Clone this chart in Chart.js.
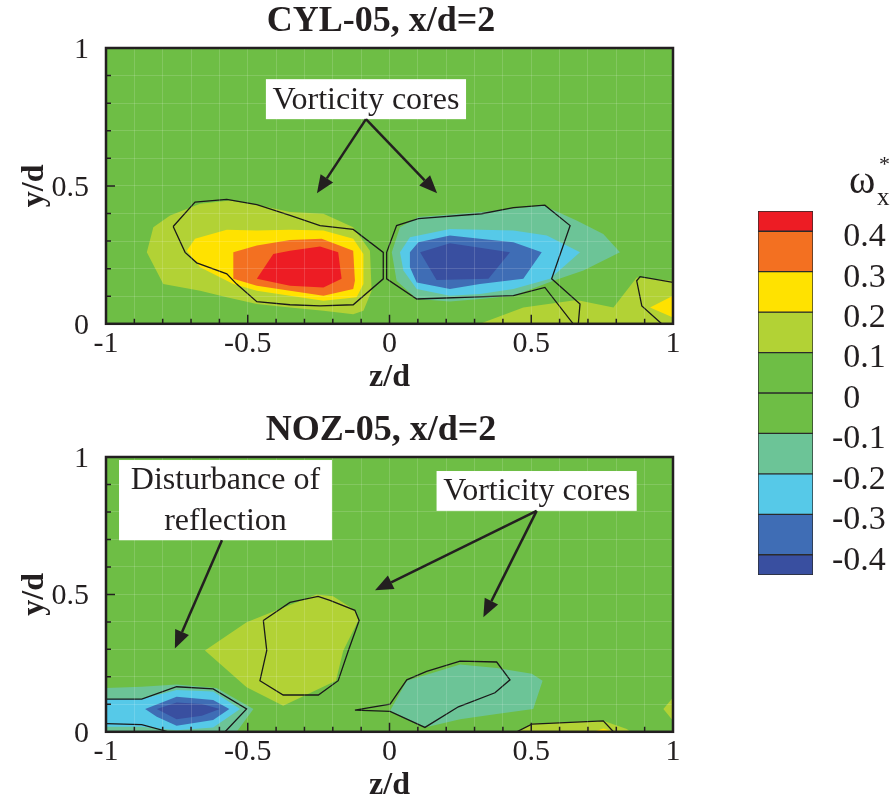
<!DOCTYPE html>
<html>
<head>
<meta charset="utf-8">
<script src="https://cdn.jsdelivr.net/npm/chart.js@4.4.1/dist/chart.umd.min.js"></script>
<style>
  html, body { margin: 0; padding: 0; background: #ffffff; width: 893px; height: 798px; overflow: hidden; }
  canvas { position: absolute; }
  #cyl { left: 0; top: 0; }
  #noz { left: 0; top: 409px; }
  #bar { left: 700px; top: 170px; }
  .sym { position: absolute; font-family: "Liberation Serif", "Times New Roman", serif; color: #231f20; line-height: 1; white-space: nowrap; }
</style>
</head>
<body>
<canvas id="cyl" width="762" height="397"></canvas>
<canvas id="noz" width="762" height="396"></canvas>
<canvas id="bar" width="193" height="440"></canvas>
<span class="sym" style="left:849px; top:160px; font-size:40px;">ω</span>
<span class="sym" style="left:877px; top:184px; font-size:25px;">x</span>
<span class="sym" style="left:879px; top:153px; font-size:22px;">*</span>

<script>
// ---- contour levels and palette ----
const bandEdges  = [0.45, 0.4, 0.3, 0.2, 0.1, 0, -0.1, -0.2, -0.3, -0.4, -0.45];
const bandColors = ['#ED1C24', '#F37021', '#FFE200', '#B2D235', '#6EBE45', '#6EBE45', '#6CC497', '#56C9E8', '#3F6DB5', '#394FA0'];
const colorTicks = [0.4, 0.3, 0.2, 0.1, 0, -0.1, -0.2, -0.3, -0.4];
const zLabelled  = [-1, -0.5, 0, 0.5, 1];
const yLabelled  = [0, 0.5, 1];

// ---- CYL-05, x/d=2 : filled contour regions [z/d, y/d] ----
const cylPos01 = [[-0.856,0.259],[-0.833,0.350],[-0.774,0.393],[-0.668,0.435],[-0.563,0.447],[-0.457,0.429],[-0.351,0.405],[-0.233,0.399],[-0.128,0.350],[-0.069,0.265],[-0.063,0.120],[-0.092,0.047],[-0.128,0.035],[-0.233,0.047],[-0.351,0.059],[-0.468,0.072],[-0.574,0.096],[-0.668,0.120],[-0.798,0.144]];
const cylPos02 = [[-0.715,0.265],[-0.686,0.308],[-0.574,0.341],[-0.468,0.338],[-0.351,0.341],[-0.233,0.338],[-0.128,0.308],[-0.092,0.253],[-0.092,0.144],[-0.116,0.096],[-0.233,0.084],[-0.351,0.102],[-0.468,0.120],[-0.551,0.144],[-0.668,0.205]];
const cylPos03 = [[-0.551,0.259],[-0.468,0.284],[-0.351,0.304],[-0.239,0.308],[-0.128,0.265],[-0.122,0.156],[-0.128,0.126],[-0.233,0.102],[-0.351,0.120],[-0.468,0.138],[-0.551,0.163]];
const cylPos04 = [[-0.468,0.163],[-0.410,0.253],[-0.351,0.265],[-0.245,0.280],[-0.181,0.259],[-0.169,0.163],[-0.233,0.132],[-0.351,0.138]];
const cylNeg01 = [[0.008,0.259],[0.037,0.350],[0.102,0.387],[0.325,0.405],[0.543,0.429],[0.660,0.375],[0.754,0.326],[0.813,0.259],[0.684,0.193],[0.578,0.156],[0.437,0.102],[0.319,0.090],[0.213,0.081],[0.096,0.090],[0.025,0.156]];
const cylNeg02 = [[0.037,0.259],[0.072,0.314],[0.213,0.344],[0.437,0.338],[0.555,0.320],[0.672,0.259],[0.566,0.163],[0.437,0.126],[0.319,0.108],[0.213,0.102],[0.096,0.126],[0.049,0.193]];
const cylNeg03 = [[0.072,0.259],[0.102,0.296],[0.213,0.320],[0.319,0.308],[0.437,0.296],[0.537,0.259],[0.472,0.163],[0.319,0.144],[0.213,0.126],[0.096,0.150],[0.072,0.205]];
const cylNeg04 = [[0.108,0.259],[0.213,0.292],[0.425,0.259],[0.349,0.163],[0.166,0.159]];
const cylWall01 = [[0.319,0],[0.472,0.059],[0.660,0.086],[0.790,0.059],[0.872,0.168],[1,0.156],[1,0]];
const cylWall02 = [[0.919,0.059],[1,0.102],[1,0.023]];
// black iso-lines
const cylLine01 = [[-0.763,0.353],[-0.686,0.441],[-0.574,0.451],[-0.468,0.432],[-0.351,0.393],[-0.245,0.356],[-0.128,0.342],[-0.022,0.259],[-0.022,0.163],[-0.128,0.069],[-0.245,0.065],[-0.351,0.069],[-0.468,0.080],[-0.539,0.144],[-0.574,0.181],[-0.680,0.221],[-0.721,0.259],[-0.763,0.353]];
const cylLine02 = [[0.666,0],[0.672,0.072],[0.572,0.163],[0.637,0.356],[0.548,0.430],[0.437,0.421],[0.325,0.399],[0.102,0.381],[0.025,0.356],[-0.010,0.259],[-0.010,0.163],[0.096,0.090],[0.437,0.102],[0.548,0.132],[0.648,0]];
const cylLine03 = [[1,0.150],[0.884,0.171],[0.872,0.156],[0.890,0.065],[0.960,0]];

// ---- NOZ-05, x/d=2 ----
const nozPos01 = [[-0.651,0.296],[-0.504,0.399],[-0.398,0.442],[-0.257,0.500],[-0.199,0.493],[-0.122,0.442],[-0.110,0.405],[-0.163,0.296],[-0.189,0.186],[-0.375,0.095],[-0.504,0.162]];
const nozNeg01 = [[-1,0.159],[-0.874,0.164],[-0.751,0.172],[-0.610,0.159],[-0.480,0.083],[-0.539,0],[-1,0]];
const nozNeg02 = [[-1,0.119],[-0.874,0.119],[-0.751,0.152],[-0.622,0.147],[-0.527,0.083],[-0.622,0.016],[-0.751,0.006],[-0.874,0.018],[-1,0.018]];
const nozNeg03 = [[-0.862,0.083],[-0.751,0.128],[-0.622,0.116],[-0.565,0.083],[-0.622,0.043],[-0.751,0.022],[-0.821,0.055]];
const nozNeg04 = [[-0.821,0.083],[-0.751,0.107],[-0.662,0.101],[-0.598,0.083],[-0.662,0.058],[-0.751,0.046]];
const nozNeg05 = [[0.002,0.077],[0.061,0.186],[0.249,0.245],[0.378,0.232],[0.502,0.211],[0.540,0.186],[0.507,0.083],[0.378,0.065],[0.249,0.046],[0.125,0.016]];
const nozWall01 = [[0.449,0],[0.502,0.030],[0.754,0.040],[0.837,0.010],[0.850,0]];
const nozWall02 = [[0.720,0],[0.755,0.012],[0.790,0]];
const nozWall03 = [[0.966,0.083],[1,0.125],[1,0.040]];
const nozLine01 = [[-0.445,0.405],[-0.433,0.296],[-0.457,0.186],[-0.375,0.134],[-0.251,0.134],[-0.181,0.186],[-0.145,0.296],[-0.107,0.405],[-0.122,0.442],[-0.210,0.478],[-0.252,0.493],[-0.351,0.471],[-0.445,0.405]];
const nozLine02 = [[-1,0.119],[-0.874,0.119],[-0.751,0.164],[-0.622,0.156],[-0.504,0.083],[-0.580,0]];
const nozLine03 = [[-1,0.030],[-0.874,0.026],[-0.780,0]];
const nozLine04 = [[-0.122,0.079],[0.002,0.101],[0.061,0.189],[0.131,0.220],[0.249,0.257],[0.378,0.254],[0.425,0.189],[0.372,0.142],[0.243,0.091],[0.125,0.016],[0.002,0.074],[-0.122,0.079]];
const nozLine05 = [[0.449,0],[0.502,0.028],[0.754,0.040],[0.790,0]];

// ---- annotations (data units) ----
const cylNotes = [{ box: [-0.436, 0.887, 0.270, 0.742], lines: ['Vorticity cores'], from: [-0.083, 0.742], tips: [[-0.256, 0.473], [0.168, 0.473]] }];
const nozNotes = [
  { box: [0.166, 0.949, 0.872, 0.804], lines: ['Vorticity cores'], from: [0.519, 0.804], tips: [[-0.051, 0.515], [0.331, 0.417]] },
  { box: [-0.954, 0.989, -0.203, 0.697], lines: ['Disturbance of', 'reflection'], from: [-0.591, 0.697], tips: [[-0.757, 0.303]] }
];

const SERIF = "'Liberation Serif', 'Times New Roman', serif";
const INK = '#231f20';

function area(points, color, order) {
  const pts = points.map(([x, y]) => ({ x, y }));
  pts.push({ x: points[0][0], y: points[0][1] });
  return { data: pts, showLine: true, fill: 'shape', backgroundColor: color, borderColor: 'rgba(0,0,0,0)', borderWidth: 0.5, pointRadius: 0, tension: 0, order };
}
function isoLine(points) {
  return { data: points.map(([x, y]) => ({ x, y })), showLine: true, fill: false, borderColor: '#1a1a1a', borderWidth: 1.3, pointRadius: 0, tension: 0, order: 0 };
}
const near = (list, v) => list.some(l => Math.abs(l - v) < 1e-6);
const fmt = v => String(Math.round(v * 10) / 10);

// plot background, frame, inward ticks and callouts
const panelDecor = {
  id: 'panelDecor',
  beforeDraw(chart) {
    const { ctx, chartArea: a } = chart;
    ctx.save();
    ctx.fillStyle = bandColors[4];
    ctx.fillRect(a.left, a.top, a.width, a.height);
    ctx.restore();
  },
  afterDraw(chart, args, opts) {
    const { ctx, chartArea: a, scales: { x, y } } = chart;
    ctx.save();
    // callouts
    (opts.notes || []).forEach(n => {
      const x1 = x.getPixelForValue(n.box[0]), y1 = y.getPixelForValue(n.box[1]);
      const x2 = x.getPixelForValue(n.box[2]), y2 = y.getPixelForValue(n.box[3]);
      ctx.fillStyle = '#ffffff';
      ctx.fillRect(x1, y1, x2 - x1, y2 - y1);
      ctx.fillStyle = INK;
      ctx.font = '32px ' + SERIF;
      ctx.textAlign = 'center';
      ctx.textBaseline = 'middle';
      const lh = (y2 - y1) / n.lines.length;
      n.lines.forEach((t, i) => ctx.fillText(t, (x1 + x2) / 2, y1 + lh * (i + 0.5) + 1));
      const fx = x.getPixelForValue(n.from[0]), fy = y.getPixelForValue(n.from[1]);
      n.tips.forEach(([tz, ty]) => {
        const tx = x.getPixelForValue(tz), tyy = y.getPixelForValue(ty);
        const ang = Math.atan2(tyy - fy, tx - fx);
        const hl = 18, hw = 7.5;
        const bx = tx - hl * Math.cos(ang), by = tyy - hl * Math.sin(ang);
        ctx.strokeStyle = INK; ctx.lineWidth = 2.5;
        ctx.beginPath(); ctx.moveTo(fx, fy); ctx.lineTo(bx, by); ctx.stroke();
        ctx.beginPath();
        ctx.moveTo(tx, tyy);
        ctx.lineTo(bx + hw * Math.sin(ang), by - hw * Math.cos(ang));
        ctx.lineTo(bx - hw * Math.sin(ang), by + hw * Math.cos(ang));
        ctx.closePath(); ctx.fill();
      });
    });
    // inward ticks
    ctx.strokeStyle = INK; ctx.lineWidth = 1.5;
    ctx.beginPath();
    x.ticks.forEach(t => {
      const px = x.getPixelForValue(t.value);
      const len = near(zLabelled, t.value) ? 9 : 5;
      ctx.moveTo(px, a.bottom); ctx.lineTo(px, a.bottom - len);
    });
    y.ticks.forEach(t => {
      const py = y.getPixelForValue(t.value);
      const len = near(yLabelled, t.value) ? 9 : 5;
      ctx.moveTo(a.left, py); ctx.lineTo(a.left + len, py);
    });
    ctx.stroke();
    // frame
    ctx.lineWidth = 2.5;
    ctx.strokeRect(a.left, a.top, a.width, a.height);
    ctx.restore();
  }
};

function panel(id, title, areas, lines, notes) {
  const datasets = [...areas, ...lines.map(isoLine)];
  return new Chart(document.getElementById(id), {
    type: 'scatter',
    data: { datasets },
    options: {
      responsive: false, animation: false, events: [],
      layout: { padding: 0 },
      plugins: {
        legend: { display: false }, tooltip: { enabled: false },
        title: { display: true, text: title, color: INK, font: { family: SERIF, size: 36, weight: 'bold', lineHeight: 1.2 }, padding: { top: 0, bottom: 4.8 } },
        panelDecor: { notes }
      },
      scales: {
        x: {
          type: 'linear', min: -1, max: 1,
          afterFit: s => { s.height = 73.2; },
          border: { display: false },
          grid: { color: 'rgba(255,255,255,0.15)', lineWidth: 1, drawTicks: false, z: 1 },
          ticks: { stepSize: 0.1, autoSkip: false, maxRotation: 0, color: INK, padding: 2, font: { family: SERIF, size: 30 },
                   callback: v => near(zLabelled, v) ? fmt(v) : '' },
          title: { display: true, text: 'z/d', color: INK, font: { family: SERIF, size: 32, weight: 'bold', lineHeight: 1.2 }, padding: { top: 0, bottom: 0 } }
        },
        y: {
          type: 'linear', min: 0, max: 1,
          afterFit: s => { s.width = 106; },
          border: { display: false },
          grid: { color: 'rgba(255,255,255,0.15)', lineWidth: 1, drawTicks: false, z: 1 },
          ticks: { stepSize: 0.1, autoSkip: false, color: INK, padding: 17, labelOffset: 2, font: { family: SERIF, size: 30 },
                   callback: v => near(yLabelled, v) ? fmt(v) : '' },
          title: { display: true, text: 'y/d', color: INK, font: { family: SERIF, size: 32, weight: 'bold', lineHeight: 1.2 }, padding: { top: 16, bottom: 0 } }
        },
        // empty right-hand axis that only reserves the margin beside the plot
        yMargin: {
          type: 'linear', position: 'right', min: 0, max: 1,
          afterFit: s => { s.width = 89; },
          border: { display: false }, grid: { display: false }, ticks: { display: false }
        }
      }
    },
    plugins: [panelDecor]
  });
}

panel('cyl', 'CYL-05, x/d=2', [
  area(cylPos01, bandColors[3], 9), area(cylPos02, bandColors[2], 8), area(cylPos03, bandColors[1], 7), area(cylPos04, bandColors[0], 6),
  area(cylNeg01, bandColors[6], 9), area(cylNeg02, bandColors[7], 8), area(cylNeg03, bandColors[8], 7), area(cylNeg04, bandColors[9], 6),
  area(cylWall01, bandColors[3], 9), area(cylWall02, bandColors[2], 8)
], [cylLine01, cylLine02, cylLine03], cylNotes);

panel('noz', 'NOZ-05, x/d=2', [
  area(nozPos01, bandColors[3], 9),
  area(nozNeg01, bandColors[6], 9), area(nozNeg02, bandColors[7], 8), area(nozNeg03, bandColors[8], 7), area(nozNeg04, bandColors[9], 6),
  area(nozNeg05, bandColors[6], 9),
  area(nozWall01, bandColors[3], 9), area(nozWall02, bandColors[2], 8), area(nozWall03, bandColors[3], 9)
], [nozLine01, nozLine02, nozLine03, nozLine04, nozLine05], nozNotes);

// colour legend: one floating bar per contour band
new Chart(document.getElementById('bar'), {
  type: 'bar',
  data: {
    labels: ['ω'],
    datasets: bandColors.map((c, i) => ({
      data: [[bandEdges[i + 1], bandEdges[i]]],
      backgroundColor: c, borderColor: '#2b2b2b', borderWidth: 1, borderSkipped: false,
      grouped: false, barPercentage: 1, categoryPercentage: 1
    }))
  },
  options: {
    responsive: false, animation: false, events: [],
    layout: { padding: { left: 58, right: 0, top: 41, bottom: 35 } },
    plugins: { legend: { display: false }, tooltip: { enabled: false } },
    scales: {
      x: { display: false },
      y: {
        position: 'right', min: -0.45, max: 0.45,
        afterBuildTicks: s => { s.ticks = colorTicks.map(v => ({ value: v })); },
        afterFit: s => { s.width = 80; },
        grid: { display: false }, border: { display: false },
        ticks: { color: INK, padding: 11, labelOffset: 6, font: { family: SERIF, size: 34 },
                 callback: v => (v < -1e-9 ? '' : '\u2004') + fmt(v) }
      }
    }
  }
});
</script>
</body>
</html>
